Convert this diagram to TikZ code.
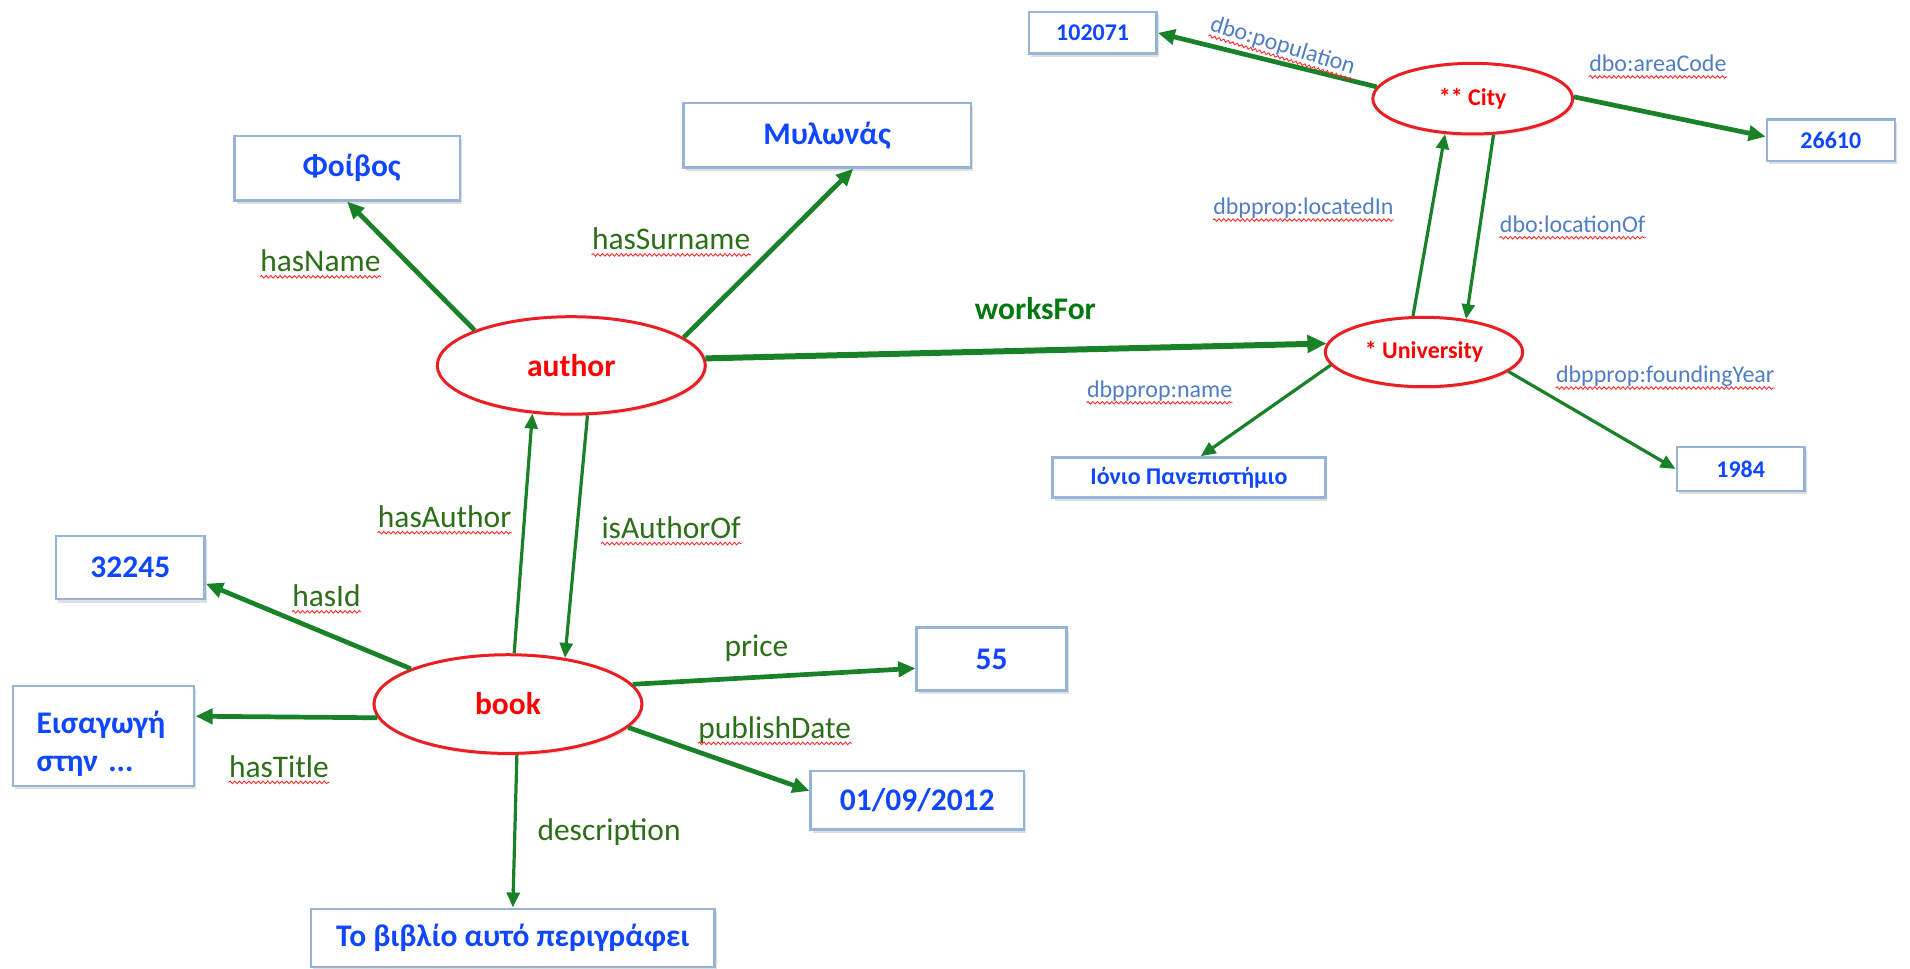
\documentclass[tikz,border=0pt]{standalone}
\usepackage{fontspec}
\setmainfont{Carlito}
\usetikzlibrary{shapes.geometric, arrows.meta, shadows, decorations.pathmorphing}

\definecolor{arrgreen}{RGB}{25,130,40}
\definecolor{lblgreen}{RGB}{45,110,25}
\definecolor{wfgreen}{RGB}{0,120,15}
\definecolor{dbblue}{RGB}{80,125,195}
\definecolor{valblue}{RGB}{15,70,255}
\definecolor{boxline}{RGB}{150,180,215}
\definecolor{ovalred}{RGB}{235,30,35}

\tikzset{
  resource/.style={ellipse, draw=ovalred, line width=1.4pt, fill=white, text=red, inner sep=1pt,
    font=\fontsize{14.7}{17}\selectfont\bfseries,
    drop shadow={shadow xshift=0.8pt, shadow yshift=-1.2pt, opacity=0.2}},
  smallres/.style={resource, font=\fontsize{11.2}{13}\selectfont\bfseries},
  literal/.style={rectangle, draw=boxline, line width=1.1pt, fill=white, text=valblue, inner sep=2pt,
    font=\fontsize{14.7}{18}\selectfont\bfseries,
    drop shadow={shadow xshift=1pt, shadow yshift=-1.5pt, opacity=0.25}},
  smalllit/.style={literal, font=\fontsize{11.2}{13}\selectfont\bfseries},
  rel/.style={draw=arrgreen, line width=2.2pt, -{Triangle[length=8pt,width=7pt]}},
  relthin/.style={rel, line width=1.5pt, -{Triangle[length=7pt,width=6pt]}},
  relthick/.style={rel, line width=2.8pt, -{Triangle[length=9pt,width=8pt]}},
  prop/.style={inner sep=0pt, text=lblgreen, font=\fontsize{14.7}{17}\selectfont},
  dbprop/.style={inner sep=0pt, text=dbblue, font=\fontsize{11.2}{13}\selectfont},
  squig/.style={append after command={([yshift=-2.5pt]\tikzlastnode.base west)
    edge[draw=red!85, line width=0.4pt, decorate,
      decoration={snake, amplitude=0.6pt, segment length=2.2pt}]
    ([yshift=-2.5pt]\tikzlastnode.base east)}},
}

\begin{document}
\begin{tikzpicture}
  \useasboundingbox (0,0) rectangle (31.36,15.9);

  % resources
  \node[resource, minimum width=4.4cm, minimum height=1.6cm] (author) at (9.38,9.90) {author};
  \node[resource, minimum width=4.4cm, minimum height=1.62cm] (book) at (8.34,4.34) {book};
  \node[smallres, minimum width=3.28cm, minimum height=1.16cm] (city) at (24.18,14.28) {** City};
  \node[smallres, minimum width=3.24cm, minimum height=1.14cm] (uni) at (23.38,10.12) {* University};

  % literals of author and book
  \node[literal, minimum width=3.7cm, minimum height=1.06cm] (foivos) at (5.70,13.14) {\hspace{0.15cm}Φοίβος};
  \node[literal, minimum width=4.72cm, minimum height=1.06cm] (mylonas) at (13.58,13.68) {Μυλωνάς};
  \node[literal, minimum width=2.44cm, minimum height=1.04cm] (bookid) at (2.14,6.58) {32245};
  \node[literal, minimum width=2.98cm, minimum height=1.64cm, text width=2.2cm, text height=18pt, align=left] (title) at (1.70,3.82) {Εισαγωγή\\στην ...};
  \node[literal, minimum width=2.46cm, minimum height=1.04cm] (priceval) at (16.28,5.08) {55};
  \node[literal, minimum width=3.5cm, minimum height=0.96cm] (date) at (15.06,2.76) {01/09/2012};
  \node[literal, minimum width=6.62cm, minimum height=0.96cm] (descr) at (8.42,0.50) {Το βιβλίο αυτό περιγράφει};

  % literals of city and university
  \node[smalllit, minimum width=2.1cm, minimum height=0.68cm] (population) at (17.94,15.36) {102071};
  \node[smalllit, minimum width=2.1cm, minimum height=0.68cm] (areacode) at (30.06,13.60) {26610};
  \node[smalllit, minimum width=4.48cm, minimum height=0.66cm] (uniname) at (19.52,8.06) {Ιόνιο Πανεπιστήμιο};
  \node[smalllit, minimum width=2.1cm, minimum height=0.72cm] (year) at (28.58,8.20) {1984};

  % properties
  \draw[rel] (author.160) -- (foivos.south);
  \draw[rel] (author.14) -- (mylonas.-52);
  \draw[relthick] (author.3) -- (uni.175);
  \draw[relthin] (book.83) -- (author.-129);
  \draw[relthin] (author.-72) -- (book.39);
  \draw[rel] (book.160) -- (bookid.-12);
  \draw[rel] (book.186) -- (title.12);
  \draw[rel] (book.9) -- (priceval.187);
  \draw[rel] (book.-11) -- (date.175);
  \draw[relthin] (book.-80) -- (descr.north);

  \draw[rel] (city.173) -- (population.east);
  \draw[rel] (city.1) -- (areacode.177);
  \draw[relthin] (uni.107) -- (city.-128);
  \draw[relthin] (city.-60) -- (uni.38);
  \draw[relthin] (uni.188) -- (uniname.61);
  \draw[relthin] (uni.-13) -- (year.west);

  % property labels
  \node[prop, squig] (lname) at (5.26,11.62) {hasName};
  \node[prop, squig] (lsurname) at (11.02,11.98) {hasSurname};
  \node[prop, text=wfgreen, font=\fontsize{14.7}{17}\selectfont\bfseries] (lworks) at (17.00,10.84) {worksFor};
  \node[prop, squig] (lauthor) at (7.30,7.42) {hasAuthor};
  \node[prop, squig] (lauthorof) at (11.02,7.24) {isAuthorOf};
  \node[prop, squig] (lid) at (5.36,6.12) {hasId};
  \node[prop, squig] (ltitle) at (4.58,3.32) {hasTitle};
  \node[prop] (lprice) at (12.42,5.26) {price};
  \node[prop, squig] (ldate) at (12.72,3.92) {publishDate};
  \node[prop] (ldescr) at (10.00,2.24) {description};

  \node[dbprop, squig, rotate=-17] (lpop) at (21.06,15.14) {dbo:population};
  \node[dbprop, squig] (larea) at (27.22,14.86) {dbo:areaCode};
  \node[dbprop, squig] (lin) at (21.40,12.48) {dbpprop:locatedIn};
  \node[dbprop, squig] (lof) at (25.82,12.22) {dbo:locationOf};
  \node[dbprop, squig] (luname) at (19.04,9.48) {dbpprop:name};
  \node[dbprop, squig] (lyear) at (27.34,9.72) {dbpprop:foundingYear};
\end{tikzpicture}
\end{document}
